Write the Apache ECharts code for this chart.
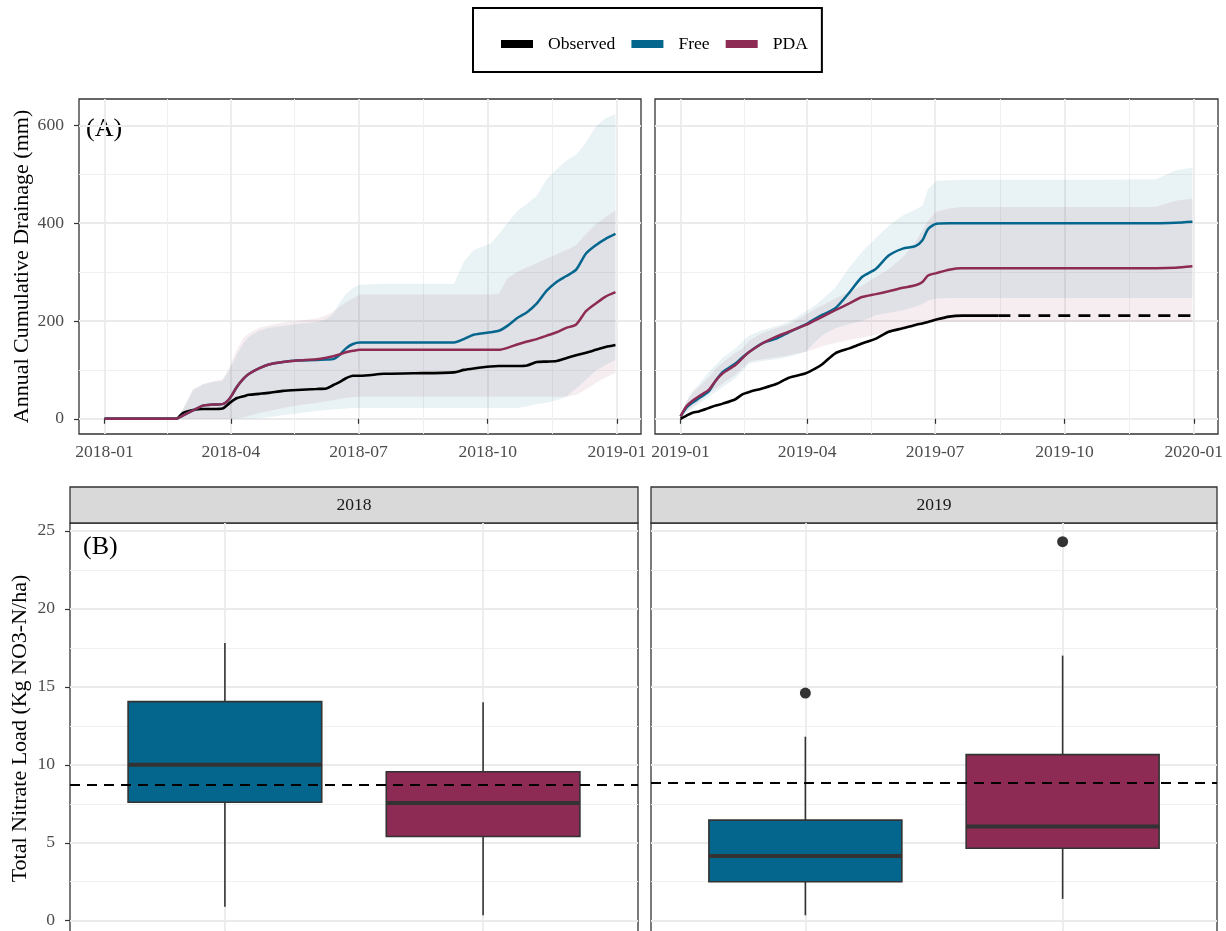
<!DOCTYPE html>
<html>
<head>
<meta charset="utf-8">
<title>Annual cumulative drainage and total nitrate load</title>
<script src="https://cdn.jsdelivr.net/npm/echarts@6.0.0/dist/echarts.min.js"></script>
<style>
html, body { margin: 0; padding: 0; background: #fff; }
#chart { width: 1226px; height: 931px; }
</style>
</head>
<body>
<div id="chart"></div>
<script>
// ---- (A) annual cumulative drainage (mm) ----
var dates2018 = ['2018-01-01','2018-02-21','2018-02-26','2018-03-05','2018-03-12','2018-03-19','2018-03-26','2018-03-31',
  '2018-04-05','2018-04-10','2018-04-14','2018-04-21','2018-04-28','2018-05-08','2018-05-18','2018-06-01','2018-06-08',
  '2018-06-13','2018-06-18','2018-06-22','2018-06-27','2018-07-02','2018-07-19','2018-08-09','2018-09-07','2018-09-14',
  '2018-09-21','2018-10-03','2018-10-09','2018-10-15','2018-10-22','2018-10-29','2018-11-05','2018-11-12','2018-11-19',
  '2018-11-26','2018-12-03','2018-12-10','2018-12-17','2018-12-24','2018-12-31'];
var obs2018    = [0,0,12,18,20,20,21,32,42,46,49,51,53,57,59,61,62,69,76,83,88,88,92,93,95,100,103,107,108,108,108,109,116,117,118,124,130,135,141,147,151];
var free2018   = [0,0,7,17,27,29,30,41,64,82,92,103,111,116,119,120,121,122,132,144,153,156,156,156,156,163,172,177,180,190,206,218,236,262,280,292,305,338,355,368,378];
var pda2018    = [0,0,7,17,27,29,30,41,64,82,92,103,111,116,119,122,125,128,132,136,139,141,141,141,141,141,141,141,141,145,152,158,163,170,177,186,193,220,236,250,259];
var freeLo2018 = [0,0,0,0,0,0,0,0,0,0,0,1,3,7,11,16,18,19,20,21,22,22,22,22,22,22,22,22,22,22,22,25,30,33,38,45,62,80,99,110,120];
var freeHi2018 = [0,0,20,58,70,75,78,100,130,155,168,180,186,190,194,198,204,215,240,255,268,274,276,276,276,321,345,358,378,400,425,440,456,490,510,528,540,565,598,615,623];
var pdaLo2018  = [0,0,0,0,0,0,0,0,1,3,6,12,16,22,27,33,36,38,41,43,44,45,45,45,45,45,45,45,45,45,45,45,45,45,45,45,49,60,73,85,93];
var pdaHi2018  = [0,0,20,61,71,76,81,105,140,165,175,186,191,197,200,205,212,220,230,238,246,254,254,254,254,254,254,254,256,287,300,310,318,328,336,345,355,378,398,412,426];

var dates2019 = ['2019-01-01','2019-01-05','2019-01-09','2019-01-14','2019-01-21','2019-01-26','2019-01-31','2019-02-09',
  '2019-02-14','2019-02-19','2019-02-28','2019-03-10','2019-03-19','2019-03-31','2019-04-07','2019-04-12','2019-04-21',
  '2019-05-01','2019-05-10','2019-05-20','2019-05-29','2019-06-08','2019-06-17','2019-06-22','2019-06-26','2019-07-02',
  '2019-07-11','2019-07-20','2019-08-15','2019-09-18','2019-10-28','2019-12-05','2019-12-19','2019-12-31'];
var obs2019     = [0,6,12,15,22,27,31,40,50,55,62,71,84,93,103,112,134,144,154,164,178,185,192,195,198,203,209,211,211,null,null,null,null,null];
var obsProj2019 = [null,null,null,null,null,null,null,null,null,null,null,null,null,null,null,null,null,null,null,null,null,null,null,null,null,null,null,null,211,211,211,211,211,211];
var free2019    = [5,22,32,42,56,78,96,113,126,137,154,164,177,193,205,213,226,258,290,307,334,348,353,365,388,399,400,400,400,400,400,400,401,403];
var pda2019     = [5,25,36,46,59,78,93,110,124,137,154,168,178,192,202,209,222,236,249,255,261,268,273,280,293,298,305,308,308,308,308,308,309,312];
var freeLo2019  = [1,12,20,30,45,55,65,83,98,113,118,122,127,137,158,171,185,194,200,212,217,222,229,235,242,246,247,247,247,247,247,247,247,247];
var freeHi2019  = [8,35,55,70,95,110,125,144,158,171,181,190,198,220,232,245,268,310,341,370,395,416,428,436,470,487,488,489,489,489,489,490,508,514];
var pdaLo2019   = [3,15,24,35,52,62,72,90,104,117,122,126,130,137,143,149,155,161,166,172,178,184,192,195,197,198,198,198,198,198,198,198,198,198];
var pdaHi2019   = [7,35,52,65,85,103,115,135,144,160,175,185,193,213,225,232,246,260,272,290,306,330,361,385,405,424,430,433,433,433,433,433,446,450];

// ---- (B) total nitrate load (Kg NO3-N/ha): min, Q1, median, Q3, max ----
var boxCats = ['Free', 'PDA'];
var box2018 = [[0.9, 7.6, 10.0, 14.05, 17.8], [0.35, 5.4, 7.55, 9.55, 14.0]];
var box2019 = [[0.35, 2.5, 4.15, 6.45, 11.8], [1.4, 4.65, 6.05, 10.65, 17.0]];
var outlierCat2019 = ['Free', 'PDA'];
var outlierVal2019 = [14.6, 24.3];
var observedLoad = { 2018: 8.7, 2019: 8.85 };

var drainTicks = [0, 200, 400, 600];
var drainMinor = [100, 300, 500];
var loadTicks = [0, 5, 10, 15, 20, 25];
var loadMinor = [2.5, 7.5, 12.5, 17.5, 22.5];

var FONT = 'Liberation Serif';
var C_OBS = '#000000', C_FREE = '#05668D', C_PDA = '#8D2B55';
var FILL_FREE = 'rgba(5,102,141,0.085)', FILL_PDA = 'rgba(141,43,85,0.085)';
var GRID_MAJOR = '#EBEBEB', GRID_MINOR = '#F0F0F0';

function t(s) { var p = s.split('-'); return new Date(+p[0], p[1] - 1, +p[2]).getTime(); }
function pairs(dates, vals) {
  var out = [];
  for (var i = 0; i < dates.length; i++) if (vals[i] != null) out.push([t(dates[i]), vals[i]]);
  return out;
}
function fmtMonth(v) {
  var d = new Date(v);
  return d.getFullYear() + '-' + String(d.getMonth() + 1).padStart(2, '0');
}
function yearRange(year) {
  var lo = t(year + '-01-01'), hi = t(year + '-12-31'), pad = (hi - lo) * 0.05;
  return [lo - pad, hi + pad];
}
function quarters(year) {
  return [0, 3, 6, 9, 12].map(function (m) { return new Date(year, m, 1).getTime(); });
}

var drainMin = -31.15, drainMax = 654.15;
var loadMin = -0.85, loadMax = 25.5;

var grids = [
  { left: 79, top: 99, width: 562, height: 335 },
  { left: 655, top: 99, width: 563, height: 335 },
  { left: 70, top: 523, width: 568, height: 411 },
  { left: 651, top: 523, width: 566, height: 411 }
].map(function (g) {
  g.show = true; g.backgroundColor = '#fff'; g.borderColor = '#333333'; g.borderWidth = 1.3;
  g.containLabel = false; g.outerBoundsMode = 'none';
  return g;
});

var labelStyle = { color: '#4D4D4D', fontSize: 17.6, fontFamily: FONT };
var tickStyle = { color: '#333333', width: 1.2 };

// dates are kept as plain timestamps on a value axis so the quarter ticks can be placed exactly
function dateAxis(grid, year) {
  var r = yearRange(year), q = quarters(year);
  return {
    type: 'value', gridIndex: grid, min: r[0], max: r[1], scale: true,
    axisLine: { show: false },
    axisTick: { show: true, length: 5, lineStyle: tickStyle, customValues: q },
    axisLabel: Object.assign({ customValues: q, formatter: fmtMonth, margin: 9 }, labelStyle),
    splitLine: { show: true, customValues: q, lineStyle: { color: GRID_MAJOR, width: 1.8 } }
  };
}
function dateMinorAxis(grid, year) {
  var r = yearRange(year), q = quarters(year), mid = [];
  for (var i = 0; i < q.length - 1; i++) mid.push((q[i] + q[i + 1]) / 2);
  return {
    type: 'value', gridIndex: grid, position: 'top', min: r[0], max: r[1], scale: true,
    axisLine: { show: false }, axisTick: { show: false, customValues: mid }, axisLabel: { show: false },
    splitLine: { show: true, customValues: mid, lineStyle: { color: GRID_MINOR, width: 1 } }
  };
}
function catAxis(grid) {
  var pos = boxCats.map(function (c, i) { return i + 1; });
  return {
    type: 'value', gridIndex: grid, min: 0.4, max: 2.6,
    axisLine: { show: false }, axisTick: { show: false, customValues: pos }, axisLabel: { show: false },
    splitLine: { show: true, customValues: pos, lineStyle: { color: GRID_MAJOR, width: 1.8 } }
  };
}
function valAxis(grid, min, max, ticks, showLabels, name, nameGap) {
  var ax = {
    type: 'value', gridIndex: grid, min: min, max: max,
    axisLine: { show: false },
    axisTick: { show: showLabels, length: 5, lineStyle: tickStyle, customValues: ticks },
    axisLabel: Object.assign({ show: showLabels, customValues: ticks, margin: 15 }, labelStyle),
    splitLine: { show: true, customValues: ticks, lineStyle: { color: GRID_MAJOR, width: 1.8 } }
  };
  if (name) {
    ax.name = name; ax.nameLocation = 'middle'; ax.nameGap = nameGap;
    ax.nameTextStyle = { fontSize: 22, color: '#000', fontFamily: FONT };
  }
  return ax;
}
function minorValAxis(grid, min, max, ticks) {
  return {
    type: 'value', gridIndex: grid, position: 'right', min: min, max: max,
    axisLine: { show: false }, axisTick: { show: false, customValues: ticks }, axisLabel: { show: false },
    splitLine: { show: true, customValues: ticks, lineStyle: { color: GRID_MINOR, width: 1 } }
  };
}

var xAxes = [dateAxis(0, 2018), dateAxis(1, 2019), catAxis(2), catAxis(3), dateMinorAxis(0, 2018), dateMinorAxis(1, 2019)];
var yAxes = [
  valAxis(0, drainMin, drainMax, drainTicks, true, 'Annual Cumulative Drainage (mm)', 46),
  valAxis(1, drainMin, drainMax, drainTicks, false),
  valAxis(2, loadMin, loadMax, loadTicks, true, 'Total Nitrate Load (Kg NO3-N/ha)', 39),
  valAxis(3, loadMin, loadMax, loadTicks, false),
  minorValAxis(0, drainMin, drainMax, drainMinor),
  minorValAxis(1, drainMin, drainMax, drainMinor),
  minorValAxis(2, loadMin, loadMax, loadMinor),
  minorValAxis(3, loadMin, loadMax, loadMinor)
];

var series = [];
// uncertainty ribbon: one polygon, upper edge forward then lower edge back, placed through the axes
function band(gi, name, dates, lo, hi, fill) {
  series.push({
    name: name, type: 'custom', xAxisIndex: gi, yAxisIndex: gi, silent: true, z: 1,
    data: dates.map(function (d, i) { return [t(d), lo[i], hi[i]]; }),
    encode: { x: 0, y: [1, 2] },
    renderItem: function (params, api) {
      if (params.dataIndex !== 0) return null;
      var upper = [], lower = [];
      for (var i = 0; i < dates.length; i++) {
        upper.push(api.coord([t(dates[i]), hi[i]]));
        lower.unshift(api.coord([t(dates[i]), lo[i]]));
      }
      return { type: 'polygon', shape: { points: upper.concat(lower) }, style: { fill: fill } };
    }
  });
}
function line(gi, name, dates, vals, color, width, dash) {
  series.push({
    name: name, type: 'line', xAxisIndex: gi, yAxisIndex: gi, data: pairs(dates, vals),
    symbol: 'none', smooth: 0.25, z: 3, color: color, itemStyle: { color: color },
    lineStyle: { color: color, width: width, type: dash || 'solid' }
  });
}

band(0, 'Free range 2018', dates2018, freeLo2018, freeHi2018, FILL_FREE);
band(0, 'PDA range 2018', dates2018, pdaLo2018, pdaHi2018, FILL_PDA);
line(0, 'Observed', dates2018, obs2018, C_OBS, 2.6);
line(0, 'Free', dates2018, free2018, C_FREE, 2.5);
line(0, 'PDA', dates2018, pda2018, C_PDA, 2.5);

band(1, 'Free range 2019', dates2019, freeLo2019, freeHi2019, FILL_FREE);
band(1, 'PDA range 2019', dates2019, pdaLo2019, pdaHi2019, FILL_PDA);
line(1, 'Observed', dates2019, obs2019, C_OBS, 2.6);
line(1, 'Observed', dates2019, obsProj2019, C_OBS, 2.6, [12, 8]);
line(1, 'Free', dates2019, free2019, C_FREE, 2.5);
line(1, 'PDA', dates2019, pda2019, C_PDA, 2.5);

// box plots drawn through the axes: whiskers, box, thick median
var BOX_WIDTH = 0.75;
var boxColors = { Free: C_FREE, PDA: C_PDA };
function renderBox(params, api) {
  var x = api.value(0);
  var pMin = api.coord([x, api.value(1)]);
  var pQ1 = api.coord([x, api.value(2)]);
  var pMed = api.coord([x, api.value(3)]);
  var pQ3 = api.coord([x, api.value(4)]);
  var pMax = api.coord([x, api.value(5)]);
  var half = api.size([BOX_WIDTH / 2, 0])[0];
  var edge = { stroke: '#333333', lineWidth: 1.6 };
  return {
    type: 'group',
    children: [
      { type: 'line', shape: { x1: pMax[0], y1: pMax[1], x2: pQ3[0], y2: pQ3[1] }, style: edge },
      { type: 'line', shape: { x1: pQ1[0], y1: pQ1[1], x2: pMin[0], y2: pMin[1] }, style: edge },
      { type: 'rect', shape: { x: pQ3[0] - half, y: pQ3[1], width: half * 2, height: pQ1[1] - pQ3[1] },
        style: { fill: api.visual('color'), stroke: '#333333', lineWidth: 1.6 } },
      { type: 'line', shape: { x1: pMed[0] - half, y1: pMed[1], x2: pMed[0] + half, y2: pMed[1] },
        style: { stroke: '#333333', lineWidth: 4 } }
    ]
  };
}
function boxes(gi, year, stats) {
  series.push({
    name: 'Nitrate load ' + year, type: 'custom', xAxisIndex: gi, yAxisIndex: gi,
    renderItem: renderBox, encode: { x: 0, y: [1, 2, 3, 4, 5] }, z: 2,
    data: stats.map(function (s, i) {
      return { name: boxCats[i], value: [i + 1].concat(s), itemStyle: { color: boxColors[boxCats[i]] } };
    }),
    markLine: {
      silent: true, symbol: 'none', z: 6, label: { show: false },
      lineStyle: { color: '#000', width: 2, type: [10, 7] },
      data: [{ yAxis: observedLoad[year] }]
    }
  });
}
boxes(2, 2018, box2018);
boxes(3, 2019, box2019);
series.push({
  name: 'Outliers 2019', type: 'scatter', xAxisIndex: 3, yAxisIndex: 3, z: 4,
  symbolSize: 11, itemStyle: { color: '#333333', opacity: 1 },
  data: outlierVal2019.map(function (v, i) { return [boxCats.indexOf(outlierCat2019[i]) + 1, v]; })
});

function strip(x, w, text) {
  return {
    type: 'rect', shape: { x: x, y: 487, width: w, height: 36 },
    style: { fill: '#D9D9D9', stroke: '#333333', lineWidth: 1.3 },
    textContent: { style: { text: text, font: '17.6px "Liberation Serif"', fill: '#1A1A1A' } },
    textConfig: { position: 'inside' }
  };
}

var chart = echarts.init(document.getElementById('chart'));
chart.setOption({
  animation: false,
  backgroundColor: '#fff',
  textStyle: { fontFamily: FONT },
  legend: {
    data: ['Observed', 'Free', 'PDA'], left: 473, top: 8, selectedMode: false,
    icon: 'rect', itemWidth: 32, itemHeight: 8, itemGap: 16,
    padding: [27, 14, 19, 28], borderColor: '#000', borderWidth: 2,
    lineStyle: { width: 8, type: 'solid', cap: 'butt' },
    textStyle: { fontFamily: FONT, fontSize: 17.6, color: '#000', padding: [0, 0, 0, 10] }
  },
  grid: grids,
  xAxis: xAxes,
  yAxis: yAxes,
  series: series,
  graphic: [
    strip(70, 568, '2018'),
    strip(651, 566, '2019'),
    { type: 'text', left: 86, top: 116, style: { text: '(A)', font: '26px "Liberation Serif"', fill: '#000' } },
    { type: 'text', left: 83, top: 534, style: { text: '(B)', font: '26px "Liberation Serif"', fill: '#000' } }
  ]
});

window.onresize = function () {
  chart.resize();
};
</script>
</body>
</html>
